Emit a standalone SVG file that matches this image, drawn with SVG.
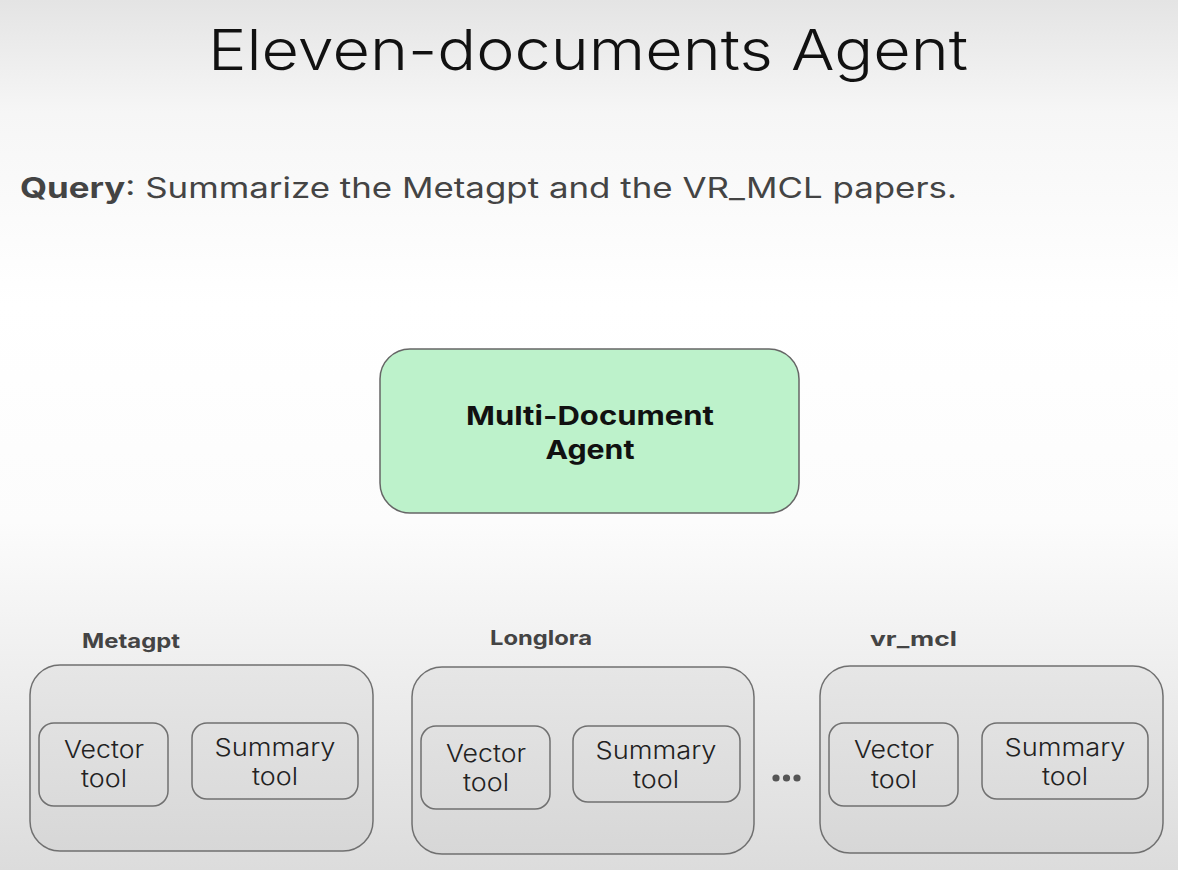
<svg xmlns="http://www.w3.org/2000/svg" width="1178" height="870" viewBox="0 0 1178 870">
<defs>
<linearGradient id="bg" x1="0" y1="0" x2="0" y2="1">
<stop offset="0" stop-color="#e4e4e4"/>
<stop offset="0.13" stop-color="#f6f6f6"/>
<stop offset="0.35" stop-color="#ffffff"/>
<stop offset="0.6" stop-color="#fcfcfc"/>
<stop offset="1" stop-color="#dcdcdc"/>
</linearGradient>
<linearGradient id="boxg" x1="0" y1="0" x2="0" y2="1">
<stop offset="0" stop-color="#e6e6e6"/>
<stop offset="1" stop-color="#d7d7d7"/>
</linearGradient>
</defs>
<style>
text{font-family:Inter,"Open Sans","Liberation Sans",sans-serif}
.title{font-size:56px;fill:#111;font-weight:300}
.q{font-size:28px;fill:#444}
.qb{font-weight:700}
.agent{font-size:26px;font-weight:700;fill:#111;text-anchor:middle}
.lab{font-size:20px;font-weight:700;fill:#444}
.outer{fill:url(#boxg);stroke:#707070;stroke-width:1.5}
.inner{fill:none;stroke:#707070;stroke-width:1.5}
.tt{font-size:24px;fill:#222;text-anchor:middle;font-weight:300}
</style>
<rect width="1178" height="870" fill="url(#bg)"/>
<g id="title"><text class="title" x="208" y="70" textLength="760" lengthAdjust="spacingAndGlyphs">Eleven-documents Agent</text></g>
<g id="query"><text class="q" x="20" y="198" textLength="937" lengthAdjust="spacingAndGlyphs"><tspan class="qb">Query</tspan>: Summarize the Metagpt and the VR_MCL papers.</text></g>
<g id="connectors"/>
<g id="agent">
<rect x="380" y="349" width="419" height="164" rx="30" fill="#bdf2cb" stroke="#666" stroke-width="1.5"/>
<text class="agent" x="590" y="425" textLength="248" lengthAdjust="spacingAndGlyphs">Multi-Document</text>
<text class="agent" x="590" y="459" textLength="89" lengthAdjust="spacingAndGlyphs">Agent</text>
</g>
<g id="metagpt">
<text class="lab" x="82" y="648" textLength="98" lengthAdjust="spacingAndGlyphs">Metagpt</text>
<rect class="outer" x="30" y="665" width="343" height="186" rx="30"/>
<g id="metagpt-vector"><rect class="inner" x="39" y="723" width="129" height="83" rx="15"/>
<text class="tt" x="104" y="758" textLength="80" lengthAdjust="spacingAndGlyphs">Vector</text><text class="tt" x="104" y="787" textLength="46" lengthAdjust="spacingAndGlyphs">tool</text></g>
<g id="metagpt-summary"><rect class="inner" x="192" y="723" width="166" height="76" rx="15"/>
<text class="tt" x="275" y="756" textLength="121" lengthAdjust="spacingAndGlyphs">Summary</text><text class="tt" x="275" y="785" textLength="46" lengthAdjust="spacingAndGlyphs">tool</text></g>
</g>
<g id="longlora">
<text class="lab" x="490" y="645" textLength="102" lengthAdjust="spacingAndGlyphs">Longlora</text>
<rect class="outer" x="412" y="667" width="342" height="187" rx="30"/>
<g id="longlora-vector"><rect class="inner" x="421" y="726" width="129" height="83" rx="15"/>
<text class="tt" x="486" y="762" textLength="80" lengthAdjust="spacingAndGlyphs">Vector</text><text class="tt" x="486" y="791" textLength="46" lengthAdjust="spacingAndGlyphs">tool</text></g>
<g id="longlora-summary"><rect class="inner" x="573" y="726" width="167" height="76" rx="15"/>
<text class="tt" x="656" y="759" textLength="121" lengthAdjust="spacingAndGlyphs">Summary</text><text class="tt" x="656" y="788" textLength="46" lengthAdjust="spacingAndGlyphs">tool</text></g>
</g>
<g id="ellipsis" fill="#555">
<circle cx="776" cy="778" r="3.6"/><circle cx="786.5" cy="778" r="3.6"/><circle cx="797" cy="778" r="3.6"/>
</g>
<g id="vr_mcl">
<text class="lab" x="870" y="646" textLength="87" lengthAdjust="spacingAndGlyphs">vr_mcl</text>
<rect class="outer" x="820" y="666" width="343" height="187" rx="30"/>
<g id="vr_mcl-vector"><rect class="inner" x="829" y="723" width="129" height="83" rx="15"/>
<text class="tt" x="894" y="758" textLength="80" lengthAdjust="spacingAndGlyphs">Vector</text><text class="tt" x="894" y="788" textLength="46" lengthAdjust="spacingAndGlyphs">tool</text></g>
<g id="vr_mcl-summary"><rect class="inner" x="982" y="723" width="166" height="76" rx="15"/>
<text class="tt" x="1065" y="756" textLength="121" lengthAdjust="spacingAndGlyphs">Summary</text><text class="tt" x="1065" y="785" textLength="46" lengthAdjust="spacingAndGlyphs">tool</text></g>
</g>
</svg>
